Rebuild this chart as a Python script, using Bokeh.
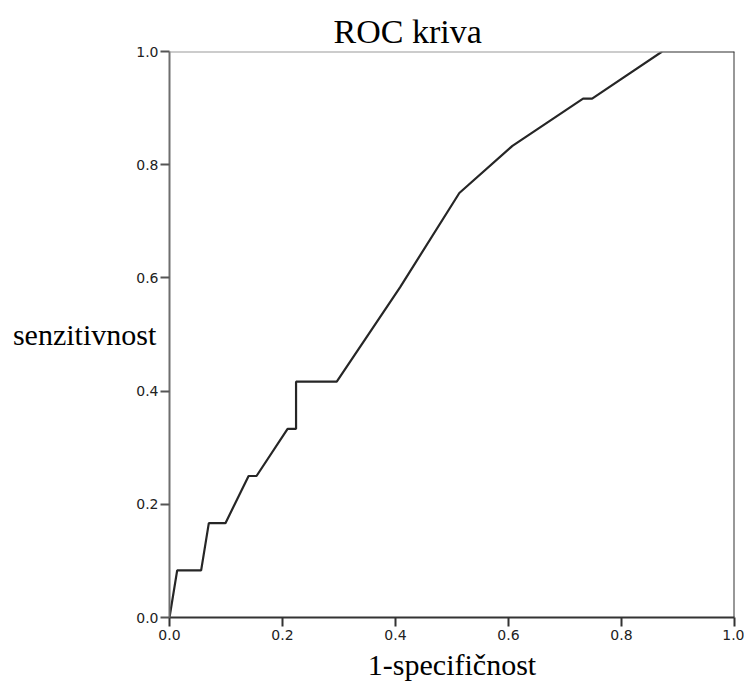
from bokeh.plotting import figure
from bokeh.models import Span, FixedTicker, PrintfTickFormatter, Range1d, Title
from bokeh.embed import file_html
from bokeh.resources import INLINE

# ROC curve points (1 - specificity, sensitivity)
fpr = [0.0, 0.0136, 0.056, 0.0696, 0.099, 0.140, 0.154, 0.209, 0.224, 0.224,
       0.296, 0.408, 0.513, 0.607, 0.732, 0.748, 0.872, 1.0]
tpr = [0.0, 0.0833, 0.0833, 0.1667, 0.1667, 0.25, 0.25, 0.3333, 0.3333, 0.4167,
       0.4167, 0.5833, 0.75, 0.8333, 0.9167, 0.9167, 1.0, 1.0]
tick_values = [0.0, 0.2, 0.4, 0.6, 0.8, 1.0]
title_text = "ROC kriva"
x_label = "1-specifičnost"
y_label = "senzitivnost"

p = figure(width=744, height=684, output_backend="svg", toolbar_location=None,
           x_range=Range1d(0, 1), y_range=Range1d(0, 1),
           min_border_left=169, min_border_right=10, min_border_top=51,
           min_border_bottom=67)
p.outline_line_color = None
p.xgrid.grid_line_color = None
p.ygrid.grid_line_color = None
p.background_fill_color = "white"

t = Title(text=title_text, align="left", offset=164, text_font="Liberation Serif",
          text_font_size="34px", text_font_style="normal", text_color="black",
          standoff=3)
p.add_layout(t, "above")

for ax in (p.xaxis[0], p.yaxis[0]):
    ax.ticker = FixedTicker(ticks=tick_values)
    ax.formatter = PrintfTickFormatter(format="%.1f")
    ax.minor_tick_line_color = None
    ax.major_tick_in = 0
    ax.major_tick_out = 9
    ax.major_label_text_font = "DejaVu Sans"
    ax.major_label_text_font_size = "14px"
    ax.major_label_text_color = "#222222"
    ax.axis_label_text_font = "Liberation Serif"
    ax.axis_label_text_font_size = "30px"
    ax.axis_label_text_font_style = "normal"
    ax.axis_label_text_color = "black"

p.xaxis.axis_line_color = "#333333"
p.xaxis.axis_line_width = 2
p.xaxis.major_tick_line_color = "#333333"
p.xaxis.major_tick_line_width = 2
p.xaxis.major_label_standoff = 3
p.xaxis.axis_label = x_label
p.xaxis.axis_label_standoff = 5

p.yaxis.axis_line_color = "#6e6e6e"
p.yaxis.axis_line_width = 2
p.yaxis.major_tick_line_color = "#555555"
p.yaxis.major_tick_line_width = 2
p.yaxis.major_label_standoff = 2
p.yaxis.axis_label = y_label
p.yaxis.axis_label_orientation = "horizontal"
p.yaxis.axis_label_standoff = -23

p.add_layout(Span(location=1.0, dimension="width", line_color="#999999", line_width=2))
p.add_layout(Span(location=1.0, dimension="height", line_color="#333333", line_width=2))

p.line(fpr, tpr, line_color="#262626", line_width=2.2)

open("out.html", "w").write(file_html(p, INLINE))
